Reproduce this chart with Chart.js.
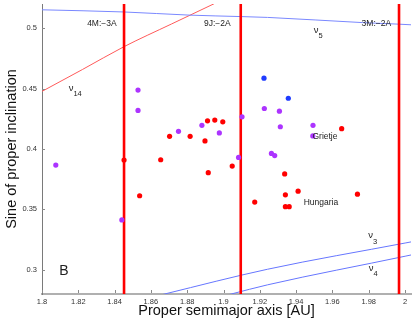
<!DOCTYPE html>
<html>
<head>
<meta charset="utf-8">
<script src="https://cdn.jsdelivr.net/npm/chart.js@4.4.1/dist/chart.umd.min.js"></script>
<style>
  html, body { margin: 0; padding: 0; background: #fff; }
  #c { display: block; }
</style>
</head>
<body>
<canvas id="c" width="415" height="324"></canvas>
<script>
// ---- tick labels ----
const xTicks = [1.8, 1.82, 1.84, 1.86, 1.88, 1.9, 1.92, 1.94, 1.96, 1.98, 2.0];
const xTickLabels = ['1.8', '1.82', '1.84', '1.86', '1.88', '1.9', '1.92', '1.94', '1.96', '1.98', '2'];
const yTicks = [0.3, 0.35, 0.4, 0.45, 0.5];
const yTickLabels = ['0.3', '0.35', '0.4', '0.45', '0.5'];

// ---- asteroid family members (proper a [AU], sine of proper i) ----
const purpleA = [1.8529, 1.8529, 1.8076, 1.8440, 1.8752, 1.8881, 1.8977, 1.9102, 1.9083, 1.9225, 1.9308, 1.9313, 1.9493, 1.9492, 1.9264, 1.9282];
const purpleS = [0.4488, 0.4319, 0.3867, 0.3413, 0.4146, 0.4196, 0.4133, 0.4266, 0.3930, 0.4335, 0.4313, 0.4184, 0.4196, 0.4108, 0.3963, 0.3946];
const blueA = [1.9223, 1.9357];
const blueS = [0.4586, 0.4420];
const redA = [1.8452, 1.8654, 1.8538, 1.8912, 1.8952, 1.8996, 1.8703, 1.8816, 1.8898, 1.9048, 1.8916, 1.9172, 1.9651, 1.9337, 1.9411, 1.9341, 1.9738, 1.9341, 1.9362];
const redS = [0.3908, 0.3911, 0.3613, 0.4233, 0.4239, 0.4225, 0.4105, 0.4105, 0.4067, 0.3859, 0.3804, 0.3561, 0.4168, 0.3794, 0.3651, 0.3621, 0.3626, 0.3523, 0.3523];

// ---- mean-motion resonances ----
const resonanceA = [1.8452, 1.9095, 1.9967];
const resonanceNames = ['4M:\u22123A', '9J:\u22122A', '3M:\u22122A'];

// ---- secular resonances ----
const nu5A = [1.8, 1.8452, 1.8812, 1.9095, 1.9243, 1.9766, 1.9967, 2.0033];
const nu5S = [0.5152, 0.5134, 0.5108, 0.5096, 0.5089, 0.5046, 0.5033, 0.5028];
const nu14A = [1.8, 1.8223, 1.8452, 1.8714, 1.8948];
const nu14S = [0.4477, 0.4658, 0.4847, 0.5035, 0.5202];
const nu3A = [1.855, 1.8676, 1.9243, 2.0005, 2.0033];
const nu3S = [0.2753, 0.2800, 0.3005, 0.3223, 0.3231];
const nu4A = [1.895, 1.9043, 1.9243, 2.0005, 2.0033];
const nu4S = [0.2765, 0.2800, 0.2876, 0.3114, 0.3123];

const yMin = 0.28, yMax = 0.52;
const xMin = 1.8, xMax = 2.0033;

const FONT = '"Liberation Sans", Arial, Helvetica, sans-serif';
const zip = (a, s) => a.map((v, i) => ({x: v, y: s[i]}));

// text annotations (placement config)
const textNotes = [
  {text: resonanceNames[0], x: 1.8330, y: 0.5016, size: 8.5},
  {text: resonanceNames[1], x: 1.8966, y: 0.5016, size: 8.5},
  {text: resonanceNames[2], x: 1.9842, y: 0.5016, size: 8.5},
  {text: 'Grietje', x: 1.9559, y: 0.4083, size: 8.5},
  {text: 'Hungaria', x: 1.9537, y: 0.3533, size: 8.5},
  {text: 'B', x: 1.8121, y: 0.2959, size: 14}
];
const nuNotes = [
  {sub: '14', x: 1.8147, y: 0.4483},
  {sub: '5', x: 1.9497, y: 0.4964},
  {sub: '3', x: 1.9797, y: 0.3263},
  {sub: '4', x: 1.9800, y: 0.2994}
];

const inwardTicks = {
  id: 'inwardTicks',
  afterDraw(chart) {
    const {ctx, chartArea, scales} = chart;
    ctx.save();
    ctx.strokeStyle = '#8a8a8a';
    ctx.lineWidth = 1;
    ctx.beginPath();
    scales.x.ticks.forEach(t => {
      const px = Math.round(scales.x.getPixelForValue(t.value)) + 0.5;
      ctx.moveTo(px, chartArea.bottom - 1);
      ctx.lineTo(px, chartArea.bottom - 4);
    });
    scales.y.ticks.forEach(t => {
      const py = Math.round(scales.y.getPixelForValue(t.value)) + 0.5;
      ctx.moveTo(chartArea.left, py);
      ctx.lineTo(chartArea.left + 3, py);
    });
    ctx.stroke();
    ctx.restore();
  }
};

const notes = {
  id: 'notes',
  afterDatasetsDraw(chart) {
    const {ctx, scales} = chart;
    ctx.save();
    ctx.fillStyle = '#222';
    ctx.textBaseline = 'alphabetic';
    textNotes.forEach(n => {
      ctx.font = n.size + 'px ' + FONT;
      ctx.textAlign = 'center';
      ctx.fillText(n.text, scales.x.getPixelForValue(n.x), scales.y.getPixelForValue(n.y));
    });
    nuNotes.forEach(n => {
      const px = scales.x.getPixelForValue(n.x);
      const py = scales.y.getPixelForValue(n.y);
      ctx.textAlign = 'left';
      ctx.font = '9.5px ' + FONT;
      ctx.fillText('\u03bd', px, py);
      const w = ctx.measureText('\u03bd').width;
      ctx.font = '7.5px ' + FONT;
      ctx.fillText(n.sub, px + w, py + 5.5);
    });
    ctx.restore();
  }
};

const pointDs = (data, color) => ({
  type: 'scatter', data, backgroundColor: color, borderColor: color,
  pointRadius: 2.6, borderWidth: 0, showLine: false
});
const lineDs = (data, color, width) => ({
  type: 'line', data, borderColor: color, backgroundColor: color,
  borderWidth: width, pointRadius: 0, showLine: true, fill: false,
  cubicInterpolationMode: 'monotone'
});

const datasets = [
  pointDs(zip(redA, redS), '#ff0000'),
  pointDs(zip(blueA, blueS), '#1f3cff'),
  pointDs(zip(purpleA, purpleS), '#ac34ff'),
  ...resonanceA.map(a => lineDs([{x: a, y: yMin}, {x: a, y: yMax}], '#ff0000', 2.6)),
  lineDs(zip(nu5A, nu5S), '#7a88ff', 1),
  lineDs(zip(nu14A, nu14S), '#ff5a5a', 1),
  lineDs(zip(nu3A, nu3S), '#6676ff', 1),
  lineDs(zip(nu4A, nu4S), '#6676ff', 1)
];

new Chart(document.getElementById('c'), {
  type: 'scatter',
  data: {datasets},
  options: {
    responsive: false,
    animation: false,
    devicePixelRatio: 1,
    layout: {padding: {top: 2, right: 0, bottom: 0, left: 0}},
    plugins: {legend: {display: false}, tooltip: {enabled: false}},
    scales: {
      x: {
        type: 'linear', min: xMin, max: xMax,
        afterBuildTicks: s => { s.ticks = xTicks.map(v => ({value: v})); },
        afterFit: s => { s.height = 30; s.paddingLeft = 0; s.paddingRight = 0; },
        grid: {display: false, drawTicks: false},
        border: {display: true, color: '#b0b0b0', width: 2},
        ticks: {
          autoSkip: false, maxRotation: 0, padding: 3, color: '#333',
          font: {family: FONT, size: 7.5},
          callback: (v, i) => xTickLabels[i]
        },
        title: {
          display: true, text: 'Proper semimajor axis [AU]', color: '#111',
          font: {family: FONT, size: 14.5}, padding: {top: 0, bottom: 4}
        }
      },
      y: {
        type: 'linear', min: yMin, max: yMax,
        afterBuildTicks: s => { s.ticks = yTicks.map(v => ({value: v})); },
        afterFit: s => { s.width = 42; s.paddingTop = 0; s.paddingBottom = 0; },
        grid: {display: false, drawTicks: false},
        border: {display: true, color: '#7a7a7a', width: 1},
        ticks: {
          autoSkip: false, padding: 5, color: '#333',
          font: {family: FONT, size: 7.5},
          callback: (v, i) => yTickLabels[i]
        },
        title: {
          display: true, text: 'Sine of proper inclination', color: '#111',
          font: {family: FONT, size: 14.5}, padding: {top: 3, bottom: 0}
        }
      }
    }
  },
  plugins: [inwardTicks, notes]
});
</script>
</body>
</html>
